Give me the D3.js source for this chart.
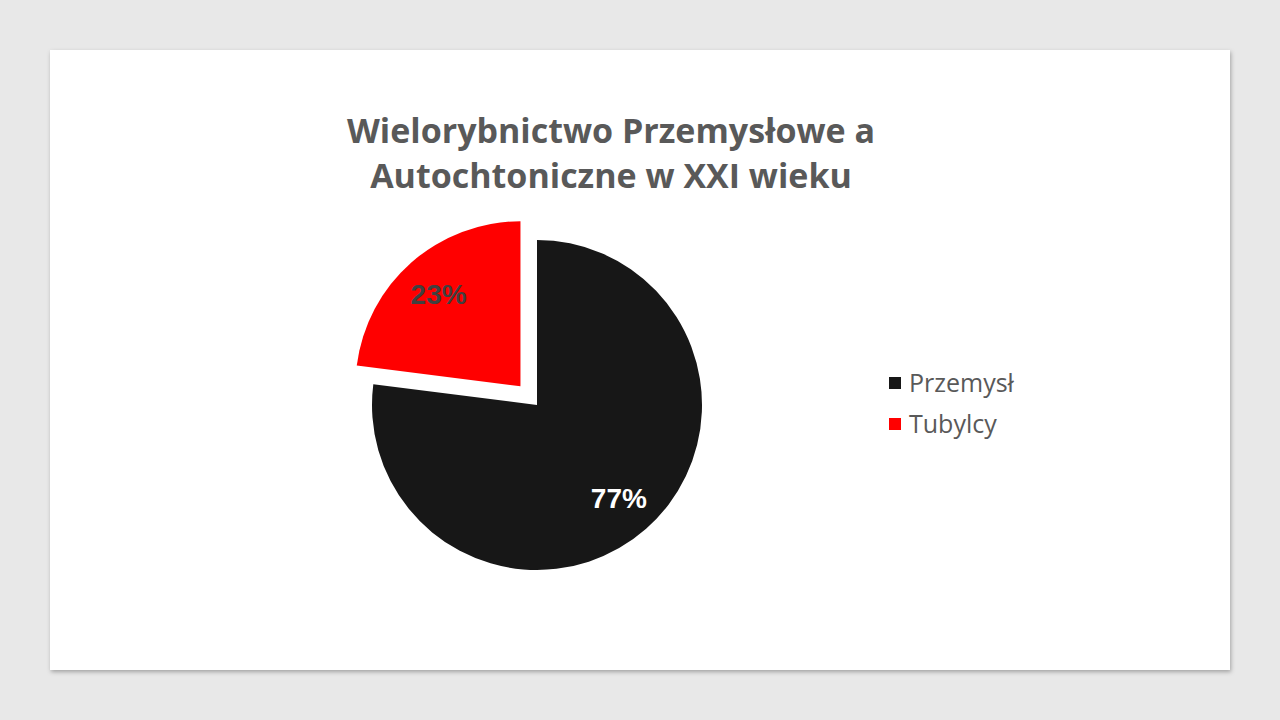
<!DOCTYPE html>
<html><head><meta charset="utf-8">
<script src="https://cdn.jsdelivr.net/npm/d3@7"></script>
<style>body{margin:0;background:#e8e8e8;}svg{display:block;}</style>
</head><body><svg id="c" width="1280" height="720"></svg>
<script>
const categories = ["Przemysł", "Tubylcy"];
const values = [77, 23];
const colors = ["#171717", "#ff0000"];
const labelColors = ["#ffffff", "#404040"];
const titleLines = ["Wielorybnictwo Przemysłowe a", "Autochtoniczne w XXI wieku"];
const explode = [0, 25];

const svg = d3.select("#c");
const defs = svg.append("defs");
const f = defs.append("filter").attr("id","sh").attr("x","-5%").attr("y","-5%").attr("width","110%").attr("height","110%");
f.append("feDropShadow").attr("dx",1).attr("dy",2).attr("stdDeviation",2).attr("flood-color","#000").attr("flood-opacity",0.3);
svg.append("rect").attr("x",50).attr("y",50).attr("width",1180).attr("height",620).attr("fill","#fff").attr("filter","url(#sh)");

const font = "'Open Sans', 'Liberation Sans', sans-serif";
svg.selectAll("text.title").data(titleLines).enter().append("text")
  .attr("x",611).attr("y",(d,i)=>143+i*45).attr("text-anchor","middle")
  .attr("font-family",font).attr("font-weight","bold").attr("font-size",34)
  .attr("fill","#595959").text(d=>d);

const cx = 537, cy = 405, r = 165;
const pie = d3.pie().sort(null).value(d=>d)(values);
const arc = d3.arc().innerRadius(0).outerRadius(r);
const labelArc = d3.arc().innerRadius(r*0.75).outerRadius(r*0.75);
const g = svg.append("g").attr("transform",`translate(${cx},${cy})`);
const sl = g.selectAll("g.s").data(pie).enter().append("g")
  .attr("transform",(d,i)=>{const a=(d.startAngle+d.endAngle)/2;return `translate(${Math.sin(a)*explode[i]},${-Math.cos(a)*explode[i]})`;});
sl.append("path").attr("d",arc).attr("fill",(d,i)=>colors[i]);
sl.append("text").attr("transform",d=>`translate(${labelArc.centroid(d)})`)
  .attr("text-anchor","middle").attr("dy","0.36em")
  .attr("font-family","'Liberation Sans', Arial, sans-serif").attr("font-weight","bold").attr("font-size",28)
  .attr("fill",(d,i)=>labelColors[i]).text(d=>Math.round(d.value/d3.sum(values)*100)+"%");

const lg = svg.append("g").attr("transform","translate(889,377)");
const li = lg.selectAll("g").data(categories).enter().append("g").attr("transform",(d,i)=>`translate(0,${i*41})`);
li.append("rect").attr("width",12).attr("height",12).attr("fill",(d,i)=>colors[i]);
li.append("text").attr("x",20).attr("y",15).attr("font-family",font).attr("font-size",25).attr("fill","#595959").text(d=>d);
</script></body></html>
